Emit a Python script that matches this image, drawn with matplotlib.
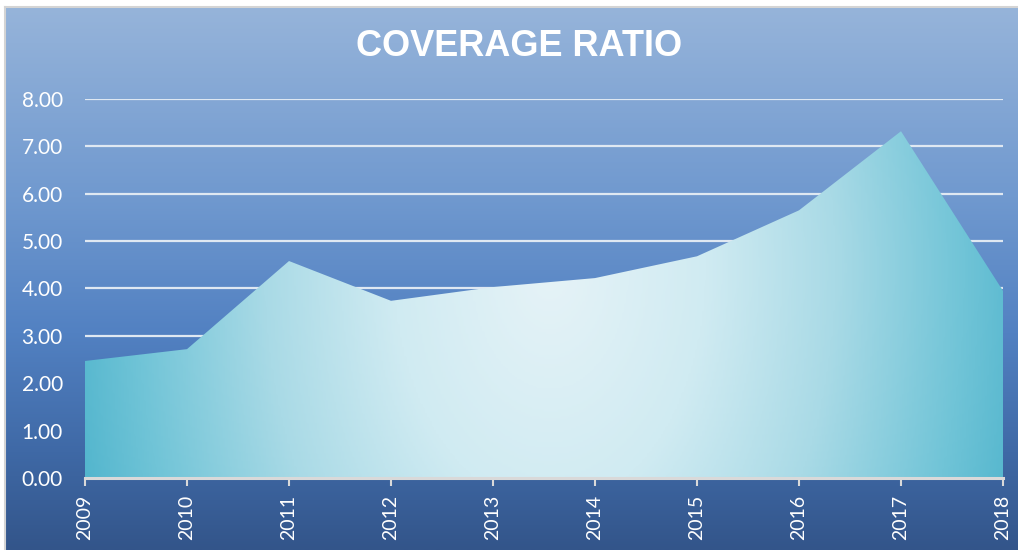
import numpy as np
import matplotlib
matplotlib.use("Agg")
import matplotlib.pyplot as plt
from matplotlib.colors import LinearSegmentedColormap

# data
years = [2009, 2010, 2011, 2012, 2013, 2014, 2015, 2016, 2017, 2018]
ratio = [2.47, 2.72, 4.58, 3.74, 4.03, 4.22, 4.68, 5.65, 7.32, 3.95]
y_ticks = [0, 1, 2, 3, 4, 5, 6, 7, 8]
title = "COVERAGE RATIO"

W, H = 1018, 550
fig = plt.figure(figsize=(W / 100, H / 100), dpi=100)
fig.patch.set_facecolor("white")

# chart background: vertical blue gradient with a thin grey frame
bg = fig.add_axes([5 / W, 0, 1 - 5 / W, 1 - 7 / H])
bg_cmap = LinearSegmentedColormap.from_list(
    "bg", [(0.0, "#96b4da"), (0.35, "#7099cf"), (0.6, "#5281c2"),
           (0.82, "#3f69a6"), (1.0, "#33558a")])
grad = np.linspace(0, 1, 256).reshape(-1, 1)
bg.imshow(grad, aspect="auto", cmap=bg_cmap, extent=(0, 1, 0, 1), origin="upper")
bg.set_xlim(0, 1)
bg.set_ylim(0, 1)
bg.set_xticks([])
bg.set_yticks([])
for side, sp in bg.spines.items():
    sp.set_color("#d4d4d4")
    sp.set_linewidth(1.5)
    if side in ("right", "bottom"):
        sp.set_visible(False)

fig.text(519 / W, 1 - 47 / H, title, ha="center", va="center", color="white",
         fontsize=26, fontweight="bold", family="Liberation Sans")

# main plot area
left, right = 85 / W, 1003 / W
bottom, top = 1 - 478 / H, 1 - 99 / H
ax = fig.add_axes([left, bottom, right - left, top - bottom])
ax.patch.set_alpha(0)
ax.set_xlim(years[0], years[-1])
ax.set_ylim(0, 8)

for v in y_ticks[1:]:
    ax.axhline(v, color="#dfe8f2", lw=1.6, zorder=1)

poly = ax.fill_between(years, ratio, 0, color="none", lw=0, zorder=2)

# mostly horizontal radial gradient for the area (pixel space)
nx, ny = 400, 200
px = np.linspace(0, right * W - left * W, nx)
py = np.linspace(0, 379, ny)
PX, PY = np.meshgrid(px, py)
cx, cy = 465, 210  # centre (pixels from left / from top of axes)
r = np.sqrt(((PX - cx) / 520) ** 2 + ((PY - cy) / 800) ** 2)
r = np.clip(r, 0, 1)
area_cmap = LinearSegmentedColormap.from_list(
    "area", [(0.0, "#e6f3f7"), (0.3, "#d0ebf2"), (0.55, "#a9dae6"),
             (0.8, "#70c4d7"), (1.0, "#45afc9")])
im = ax.imshow(r, cmap=area_cmap, vmin=0, vmax=1, aspect="auto",
               extent=(years[0], years[-1], 8, 0), origin="upper", zorder=2)
ax.set_ylim(0, 8)
im.set_clip_path(poly.get_paths()[0], transform=ax.transData)

for side in ("top", "right", "left"):
    ax.spines[side].set_visible(False)
ax.spines["bottom"].set_color("#d9d9d9")
ax.spines["bottom"].set_linewidth(2.2)
ax.spines["bottom"].set_zorder(5)

ax.set_xticks(years)
ax.set_xticklabels([str(y) for y in years], rotation=90, color="white",
                   fontsize=14, family="Lato")
ax.set_yticks(y_ticks)
ax.set_yticklabels([f"{v:.2f}" for v in y_ticks], color="white",
                   fontsize=15, family="Lato")
ax.tick_params(axis="x", direction="out", length=6, width=1.5, color="#d9d9d9", pad=6)
ax.tick_params(axis="y", length=0, pad=16)

fig.savefig("out.png", dpi=100)
